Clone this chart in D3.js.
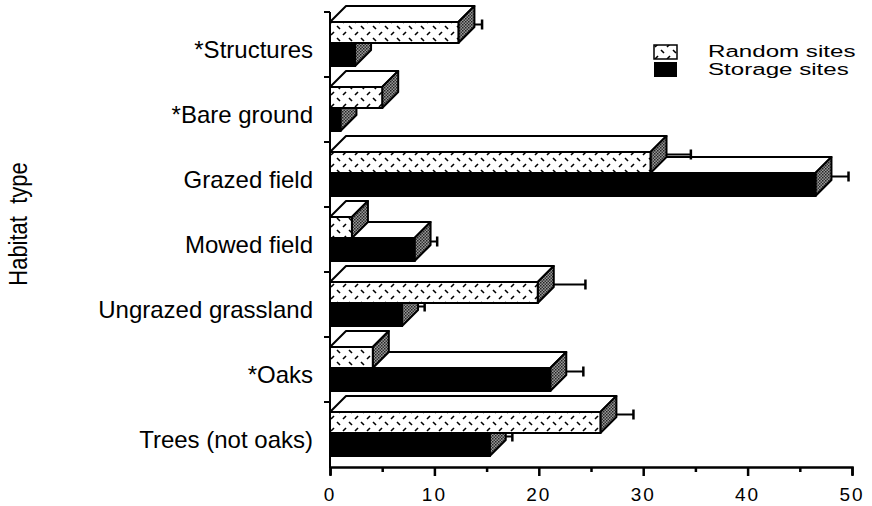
<!DOCTYPE html>
<html>
<head>
<meta charset="utf-8">
<script src="https://cdnjs.cloudflare.com/ajax/libs/d3/7.8.5/d3.min.js"></script>
<style>
  body { margin: 0; background: #fff; }
  text { font-family: "Liberation Sans", Arial, sans-serif; fill: #000; }
</style>
</head>
<body>
<div id="chart"></div>
<script>
// habitat categories, top to bottom
var categories = ["*Structures", "*Bare ground", "Grazed field", "Mowed field",
                  "Ungrazed grassland", "*Oaks", "Trees (not oaks)"];
// percent of sites
var randomMean  = [12.3, 5.0, 30.7, 2.1, 19.9, 4.1, 25.9];
var randomErr   = [1.5, 0.4, 3.1, 0.3, 3.8, 0.4, 2.4];
var storageMean = [2.4, 1.0, 46.5, 8.1, 6.9, 21.1, 15.3];
var storageErr  = [0.5, 0.3, 2.4, 1.4, 1.4, 2.4, 1.4];
var xTicks = [0, 10, 20, 30, 40, 50];
var legendLabels = ["Random sites", "Storage sites"];

var W = 872, H = 506;
var depth = 16;      // 3d offset of the boxes

var svg = d3.select("#chart").append("svg")
    .attr("width", W).attr("height", H);

var defs = svg.append("defs");
var pat = defs.append("pattern")
    .attr("id", "dash")
    .attr("patternUnits", "userSpaceOnUse")
    .attr("width", 12).attr("height", 12);
pat.append("rect").attr("width", 12).attr("height", 12).attr("fill", "#fff");
pat.append("line").attr("x1", 1).attr("y1", 2).attr("x2", 4).attr("y2", 5)
    .attr("stroke", "#000").attr("stroke-width", 1.6);
pat.append("line").attr("x1", 7).attr("y1", 11).attr("x2", 10).attr("y2", 8)
    .attr("stroke", "#000").attr("stroke-width", 1.6);

// stipple for the side faces
var dots = defs.append("pattern")
    .attr("id", "dots")
    .attr("patternUnits", "userSpaceOnUse")
    .attr("width", 3).attr("height", 3);
dots.append("rect").attr("width", 3).attr("height", 3).attr("fill", "#9a9a9a");
dots.append("rect").attr("width", 1.5).attr("height", 1.5).attr("fill", "#222");
dots.append("rect").attr("x", 1.5).attr("y", 1.5).attr("width", 1.5).attr("height", 1.5).attr("fill", "#333");

var x = d3.scaleLinear().domain([0, 50]).range([330, 852]);
var y = d3.scaleBand().domain(categories).range([12, 467]);

// one 3d box: top, side, front
function box(g, x1, top, h, frontFill) {
    var x0 = x(0);
    g.append("path")
        .attr("d", "M" + x0 + "," + top + "L" + (x0 + depth) + "," + (top - depth) +
              "L" + (x1 + depth) + "," + (top - depth) + "L" + x1 + "," + top + "Z")
        .attr("fill", "#fff").attr("stroke", "#000").attr("stroke-width", 2)
        .attr("stroke-linejoin", "round");
    g.append("path")
        .attr("d", "M" + x1 + "," + top + "L" + (x1 + depth) + "," + (top - depth) +
              "L" + (x1 + depth) + "," + (top + h - depth) + "L" + x1 + "," + (top + h) + "Z")
        .attr("fill", "url(#dots)").attr("stroke", "#000").attr("stroke-width", 2)
        .attr("stroke-linejoin", "round");
    g.append("rect")
        .attr("x", x0).attr("y", top).attr("width", x1 - x0).attr("height", h)
        .attr("fill", frontFill).attr("stroke", "#000").attr("stroke-width", 2);
}

function errBar(g, v, e, top, h) {
    var ey = top + h / 2 - depth / 2;
    var xs = x(v) + depth, xe = x(v + e) + depth / 2;
    if (xe <= xs) return;
    g.append("line").attr("x1", xs).attr("x2", xe).attr("y1", ey).attr("y2", ey)
        .attr("stroke", "#000").attr("stroke-width", 2);
    g.append("line").attr("x1", xe).attr("x2", xe).attr("y1", ey - 5).attr("y2", ey + 5)
        .attr("stroke", "#000").attr("stroke-width", 2.5);
}

var bars = svg.append("g");
categories.forEach(function (c, i) {
    var g = bars.append("g");
    var rt = y(c) + 10, rh = 21;
    var st = y(c) + 31, sh = 23;
    // storage first, random box sits in front of its top face
    box(g, x(storageMean[i]), st, sh, "#000");
    errBar(g, storageMean[i], storageErr[i], st, sh);
    box(g, x(randomMean[i]), rt, rh, "url(#dash)");
    errBar(g, randomMean[i], randomErr[i], rt, rh);
});

// axes
svg.append("line").attr("x1", 330).attr("x2", 330).attr("y1", 12).attr("y2", 468)
    .attr("stroke", "#000").attr("stroke-width", 2);
svg.append("g").selectAll("line").data(categories).enter().append("line")
    .attr("x1", 324).attr("x2", 330)
    .attr("y1", function (d) { return y(d); }).attr("y2", function (d) { return y(d); })
    .attr("stroke", "#000").attr("stroke-width", 2);

var xAxis = svg.append("g")
    .attr("transform", "translate(0,467)")
    .call(d3.axisBottom(x).tickValues(d3.range(0, 51, 5)).tickSize(8).tickFormat(""));
xAxis.select(".domain").attr("stroke-width", 2.5);
xAxis.selectAll(".tick line").attr("stroke-width", 2.5)
    .attr("y2", function (d) { return d % 10 === 0 ? 9 : 5; });

svg.append("g").selectAll("text").data(xTicks).enter().append("text")
    .attr("x", function (d) { return x(d); }).attr("y", 501)
    .attr("text-anchor", "middle")
    .style("font-size", "19px").style("letter-spacing", "2px")
    .text(function (d) { return d; });

// category labels
svg.append("g").selectAll("text").data(categories).enter().append("text")
    .attr("x", 313).attr("y", function (d) { return y(d) + 46; })
    .attr("text-anchor", "end")
    .style("font-size", "24px")
    .text(function (d) { return d; });

svg.append("text")
    .attr("transform", "translate(27,224) scale(1.2,1) rotate(-90)")
    .attr("text-anchor", "middle")
    .style("font-size", "22px")
    .text("Habitat\u00a0\u00a0type");

// legend
var leg = svg.append("g");
leg.append("rect").attr("x", 654).attr("y", 45).attr("width", 23).attr("height", 14)
    .attr("fill", "url(#dash)").attr("stroke", "#000").attr("stroke-width", 1.5);
leg.append("rect").attr("x", 654).attr("y", 62).attr("width", 23).attr("height", 15)
    .attr("fill", "#000");
leg.selectAll("text").data(legendLabels).enter().append("text")
    .attr("transform", function (d, i) { return "translate(708," + (57 + i * 18) + ") scale(1.42,1)"; })
    .style("font-size", "17px")
    .text(function (d) { return d; });
</script>
</body>
</html>
